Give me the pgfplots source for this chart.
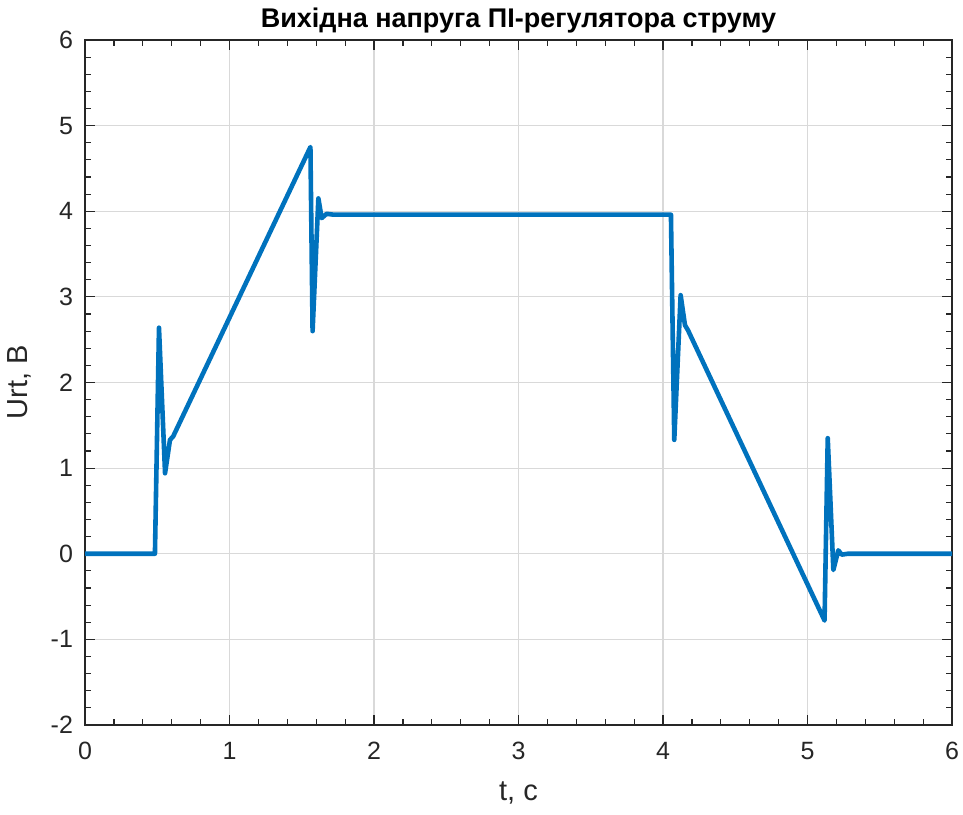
\documentclass[border=0pt]{standalone}
\usepackage{pgfplots}
\pgfplotsset{compat=1.18}
\usepackage{fontspec}
\setmainfont{Liberation Sans}
\definecolor{mblue}{RGB}{0,114,189}
\begin{document}
\begin{tikzpicture}[x=0.5pt,y=0.5pt]
\path[use as bounding box] (0,0) rectangle (963,814);
\begin{axis}[
  at={(85pt*0.5,89pt*0.5)}, anchor=south west,
  width=433.5pt, height=342.5pt, scale only axis,
  xmin=0, xmax=6, ymin=-2, ymax=6,
  xtick={0,1,...,6}, ytick={-2,-1,...,6},
  minor x tick num=4, minor y tick num=4,
  grid=major,
  major grid style={draw=black!15, line width=0.6pt},
  axis line style={draw=black!85, line width=0.6pt},
  tick style={draw=black!85, line width=0.6pt},
  major tick length=5pt, minor tick length=3pt,
  tick align=inside,
  ticklabel style={font=\fontsize{12.5}{15}\selectfont, text=black!85},
  xticklabel style={yshift=-5pt},
  yticklabel style={xshift=-2.5pt},
  /pgf/number format/assume math mode=true,
  xlabel={t, с}, ylabel={Urt, В},
  label style={font=\fontsize{14.5}{17}\selectfont, text=black!85},
  title={\textbf{Вихідна напруга ПІ-регулятора струму}},
  title style={font=\fontsize{13.5}{15}\selectfont, yshift=-6pt},
  xlabel style={yshift=-4pt},
  ylabel style={yshift=3pt},
  clip=true,
]
\addplot[mblue, line width=2.3pt, line join=round] coordinates {
(0,0) (0.484,0) (0.512,2.64) (0.554,0.94) (0.588,1.33) (0.61,1.37)
(1.560,4.75) (1.575,2.60) (1.615,4.15) (1.638,3.92) (1.672,3.97) (1.72,3.96)
(4.055,3.96) (4.078,1.33) (4.122,3.02) (4.152,2.67) (4.173,2.61)
(5.118,-0.78) (5.140,1.35) (5.179,-0.19) (5.213,0.04) (5.237,-0.01) (5.28,0) (6,0)
};
\end{axis}
\end{tikzpicture}
\end{document}
